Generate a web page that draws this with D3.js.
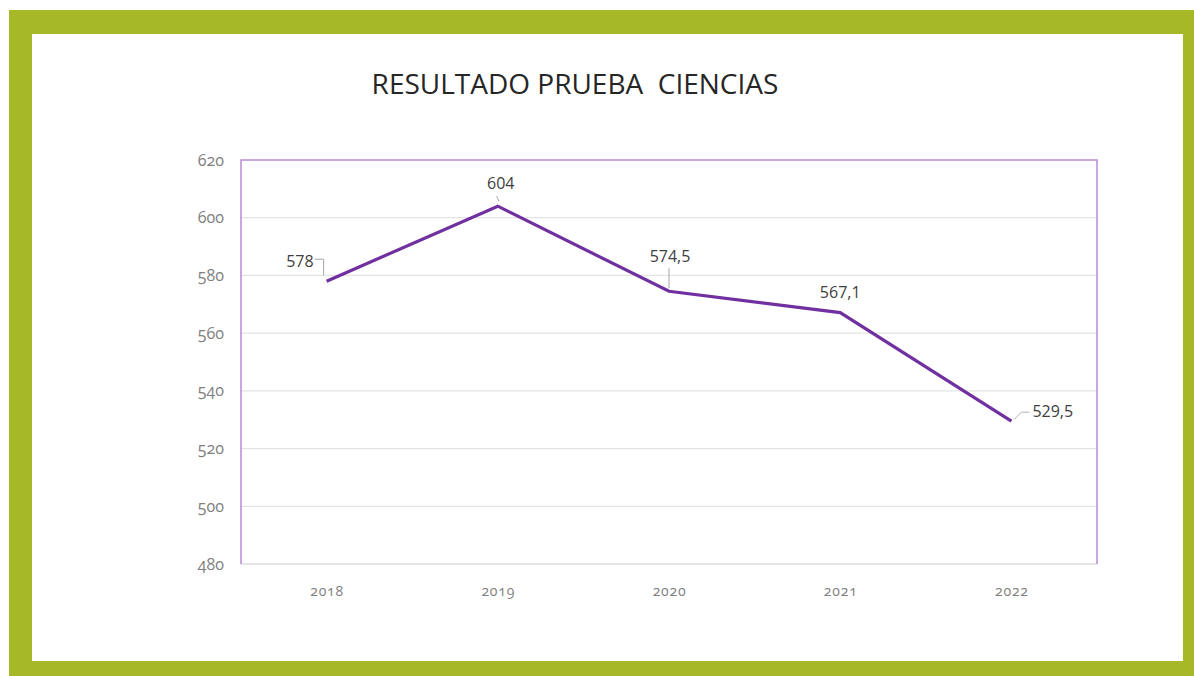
<!DOCTYPE html>
<html><head><meta charset="utf-8">
<script src="https://cdn.jsdelivr.net/npm/d3@7/dist/d3.min.js"></script>
<style>
html,body{margin:0;padding:0;background:#fff;}
svg{display:block;}
</style></head>
<body>
<svg id="c" width="1194" height="676"></svg>
<script>
const years = ["2018","2019","2020","2021","2022"];
const values = [578, 604, 574.5, 567.1, 529.5];
const valueLabels = ["578","604","574,5","567,1","529,5"];
const yTicks = [480,500,520,540,560,580,600,620];
const title = "RESULTADO PRUEBA  CIENCIAS";

const svg = d3.select("#c");
// frame
svg.append("rect").attr("x",9).attr("y",10).attr("width",1185).attr("height",666).attr("fill","#a6b727");
svg.append("rect").attr("x",32).attr("y",34).attr("width",1151).attr("height",627).attr("fill","#fff");

const L=241,T=160,R=1097,B=564;
const x = d3.scalePoint().domain(years).range([L,R]).padding(0.5);
const y = d3.scaleLinear().domain([480,620]).range([B,T]);

// gridlines
svg.append("g").selectAll("line").data(yTicks.filter(t=>t>480 && t<620)).join("line")
  .attr("x1",L).attr("x2",R).attr("y1",d=>y(d)).attr("y2",d=>y(d))
  .attr("stroke","#e4e4e4").attr("stroke-width",1.2);

// bottom axis line
svg.append("line").attr("x1",L).attr("x2",R).attr("y1",B).attr("y2",B).attr("stroke","#dcdcdc").attr("stroke-width",1.3);
// plot border (purple)
svg.append("path").attr("d",`M${L},${B}V${T}H${R}V${B}`).attr("fill","none").attr("stroke","#b98ad8").attr("stroke-width",1.5);

const tickFont = "'Open Sans', Lato, sans-serif";
// y axis
const yAxis = d3.axisLeft(y).tickValues(yTicks).tickSize(0).tickPadding(17).tickFormat(d3.format("d"));
const gy = svg.append("g").attr("transform",`translate(${L},0)`).call(yAxis);
gy.select(".domain").remove();
gy.selectAll("text").attr("fill","#808080").style("font-family",tickFont)
  .style("font-size","16px").style("font-feature-settings","'onum' 1").style("font-variant-numeric","oldstyle-nums");

// x axis
const xAxis = d3.axisBottom(x).tickSize(0).tickPadding(22);
const gx = svg.append("g").attr("transform",`translate(0,${B})`).call(xAxis);
gx.select(".domain").remove();
gx.selectAll("text").attr("fill","#808080").style("font-family",tickFont)
  .style("font-size","14px").style("font-feature-settings","'onum' 1").style("font-variant-numeric","oldstyle-nums").style("letter-spacing","0.8px");

// line
const line = d3.line().x((d,i)=>x(years[i])).y(d=>y(d));
svg.append("path").datum(values).attr("d",line).attr("fill","none")
  .attr("stroke","#7030a0").attr("stroke-width",3.2).attr("stroke-linejoin","miter");

// data labels with leader lines
const lab = svg.append("g").style("font-family","'Open Sans', 'Noto Sans', sans-serif")
  .style("font-size","16px").attr("fill","#404040");
const px = i=>x(years[i]), py=i=>y(values[i]);
// 578 - to the left
lab.append("text").attr("x",px(0)-13).attr("y",py(0)-14).attr("text-anchor","end").text(valueLabels[0]);
svg.append("path").attr("d",`M${px(0)-12},${py(0)-22}H${px(0)-3}V${py(0)-6}`).attr("fill","none").attr("stroke","#a6a6a6").attr("stroke-width",1);
// 604 - above
lab.append("text").attr("x",px(1)+3).attr("y",py(1)-17).attr("text-anchor","middle").text(valueLabels[1]);
svg.append("line").attr("x1",px(1)-1).attr("y1",py(1)-10).attr("x2",px(1)+1).attr("y2",py(1)-5).attr("stroke","#a6a6a6").attr("stroke-width",1);
// 574,5 - above
lab.append("text").attr("x",px(2)+1).attr("y",py(2)-29).attr("text-anchor","middle").text(valueLabels[2]);
svg.append("line").attr("x1",px(2)).attr("y1",py(2)-23).attr("x2",px(2)).attr("y2",py(2)-3).attr("stroke","#a6a6a6").attr("stroke-width",1);
// 567,1 - above
lab.append("text").attr("x",px(3)).attr("y",py(3)-15).attr("text-anchor","middle").text(valueLabels[3]);
// 529,5 - right
lab.append("text").attr("x",px(4)+21).attr("y",py(4)-4).attr("text-anchor","start").text(valueLabels[4]);
svg.append("path").attr("d",`M${px(4)+3},${py(4)-2}L${px(4)+10},${py(4)-9}H${px(4)+18}`).attr("fill","none").attr("stroke","#b0b0b0").attr("stroke-width",1);

// title
svg.append("text").attr("x",575).attr("y",94).attr("text-anchor","middle")
  .style("font-family","'Open Sans', 'Noto Sans', sans-serif").style("font-size","28px")
  .attr("fill","#262626").style("white-space","pre").attr("xml:space","preserve").text(title);
</script>
</body></html>
